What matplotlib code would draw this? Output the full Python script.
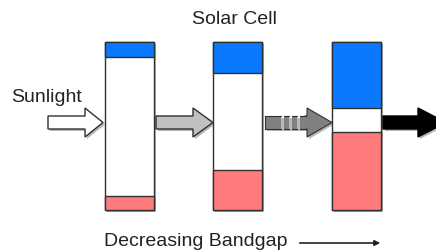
import matplotlib.pyplot as plt
from matplotlib.patches import Rectangle, Polygon

plt.rcParams['font.family'] = ['Liberation Sans', 'DejaVu Sans']

# three cells, left to right (pixel units, y downward)
cell_left = [105, 213, 332]
cell_width = 49
cell_top = 42
cell_height = 168
blue_height = [15, 31, 66]
pink_height = [14, 40, 78]

# arrows between cells: start x, head start x, tip x, fill colour, dashed body
arrow_start = [48, 156, 265, 383]
arrow_head = [85, 193, 307, 418]
arrow_tip = [103, 213, 332, 446]
arrow_color = ['white', '#c0c0c0', '#808080', 'black']
arrow_dashed = [False, False, True, False]

fig = plt.figure(figsize=(4.36, 2.52), dpi=100)
ax = fig.add_axes([0, 0, 1, 1])
ax.set_xlim(0, 436)
ax.set_ylim(252, 0)
ax.axis('off')

edge = '#303030'
shadow = '#b8b8b8'

for x, bh, ph in zip(cell_left, blue_height, pink_height):
    # shadow
    ax.add_patch(Rectangle((x + 2, cell_top + 2), cell_width, cell_height,
                           facecolor=shadow, edgecolor='none', zorder=1))
    ax.add_patch(Rectangle((x, cell_top), cell_width, cell_height,
                           facecolor='white', edgecolor=edge, lw=1.0, zorder=2))
    ax.add_patch(Rectangle((x, cell_top), cell_width, bh,
                           facecolor='#0a78ff', edgecolor=edge, lw=1.0, zorder=3))
    ax.add_patch(Rectangle((x, cell_top + cell_height - ph), cell_width, ph,
                           facecolor='#ff7b7b', edgecolor=edge, lw=1.0, zorder=3))

yc = 122.5
bh2 = 6.5
hh2 = 14.5
for xs, xh, xt, col, dash in zip(arrow_start, arrow_head, arrow_tip, arrow_color, arrow_dashed):
    pts = [(xs, yc - bh2), (xh, yc - bh2), (xh, yc - hh2), (xt, yc),
           (xh, yc + hh2), (xh, yc + bh2), (xs, yc + bh2)]
    sh = [(px + 2, py + 2) for px, py in pts]
    ax.add_patch(Polygon(sh, closed=True, facecolor=shadow, edgecolor='none', zorder=1))
    if dash:
        head = [(xh - 2, yc - bh2), (xh, yc - bh2), (xh, yc - hh2), (xt, yc),
                (xh, yc + hh2), (xh, yc + bh2), (xh - 2, yc + bh2)]
        ax.add_patch(Polygon(head, closed=True, facecolor=col, edgecolor=edge, lw=0.8, zorder=2))
        segs = [(xs, 281), (284, 289), (292, 297), (300, xh - 1)]
        for a, b in segs:
            ax.add_patch(Rectangle((a, yc - bh2), b - a, 2 * bh2,
                                   facecolor=col, edgecolor='none', zorder=2))
            ax.plot([a, b], [yc - bh2, yc - bh2], color=edge, lw=0.8, zorder=3)
            ax.plot([a, b], [yc + bh2, yc + bh2], color=edge, lw=0.8, zorder=3)
        ax.plot([xs, xs], [yc - bh2, yc + bh2], color=edge, lw=0.8, zorder=3)
    else:
        ec = 'black' if col == 'black' else edge
        ax.add_patch(Polygon(pts, closed=True, facecolor=col, edgecolor=ec, lw=1.0, zorder=2))

ax.text(234, 20, 'Solar Cell', ha='center', va='center', fontsize=14, color='#222222')
ax.text(46, 97, 'Sunlight', ha='center', va='center', fontsize=14, color='#222222')
ax.text(196, 242, 'Decreasing Bandgap', ha='center', va='center', fontsize=14, color='#222222')
ax.annotate('', xy=(383, 243), xytext=(297, 243),
            arrowprops=dict(arrowstyle='-|>', color='#222222', lw=1.2, mutation_scale=8))

fig.savefig('out.png', dpi=100)
